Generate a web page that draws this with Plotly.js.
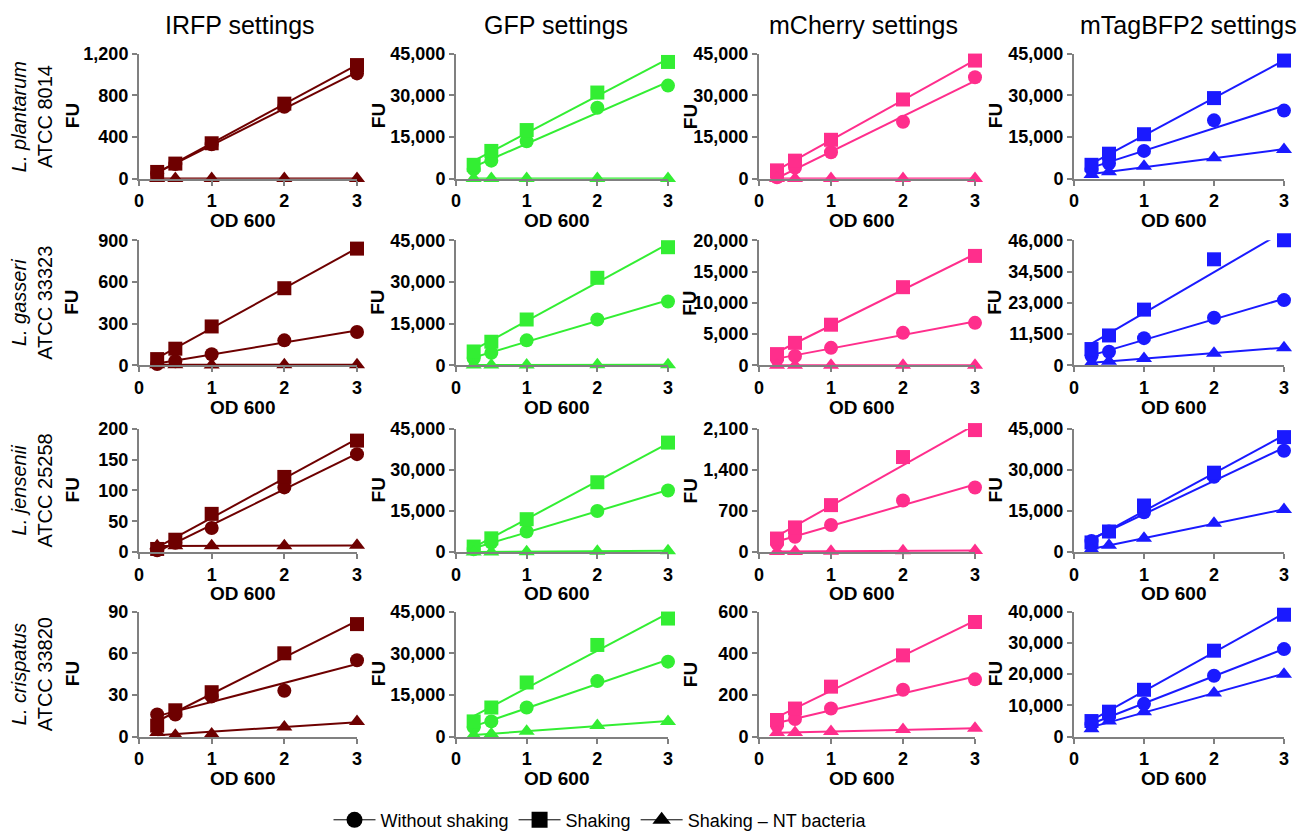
<!DOCTYPE html>
<html><head><meta charset="utf-8">
<script src="https://cdn.plot.ly/plotly-3.0.1.min.js"></script>
<style>body{margin:0;padding:0;background:#fff}#chart{width:1299px;height:839px}</style>
</head><body><div id="chart"></div>
<script>
// ---------- DATA ----------
const od600 = [0.25, 0.5, 1, 2, 3];
const settings = ["IRFP settings", "GFP settings", "mCherry settings", "mTagBFP2 settings"];
const strains = ["L. plantarum", "L. gasseri", "L. jensenii", "L. crispatus"];
const atcc = ["ATCC 8014", "ATCC 33323", "ATCC 25258", "ATCC 33820"];
const seriesNames = ["Without shaking", "Shaking", "Shaking \u2013 NT bacteria"];

// L. plantarum
const plantarum_IRFP_without = [50, 140, 330, 690, 1010];
const plantarum_IRFP_shaking = [65, 145, 340, 720, 1090];
const plantarum_IRFP_nt      = [2, 2, 2, 2, 2];
const plantarum_GFP_without  = [3500, 6500, 13500, 25500, 33500];
const plantarum_GFP_shaking  = [5000, 10000, 17500, 31000, 42000];
const plantarum_GFP_nt       = [100, 100, 100, 100, 100];
const plantarum_mCh_without  = [500, 4000, 9500, 20500, 36500];
const plantarum_mCh_shaking  = [3000, 6500, 14000, 28500, 42500];
const plantarum_mCh_nt       = [100, 100, 100, 100, 100];
const plantarum_BFP_without  = [3500, 5500, 10000, 21000, 24500];
const plantarum_BFP_shaking  = [5000, 9000, 16000, 29000, 42500];
const plantarum_BFP_nt       = [1500, 2500, 4500, 7500, 10500];
// L. gasseri
const gasseri_IRFP_without = [10, 30, 80, 180, 240];
const gasseri_IRFP_shaking = [45, 120, 280, 555, 840];
const gasseri_IRFP_nt      = [5, 5, 2, 5, 5];
const gasseri_GFP_without  = [2500, 4500, 9000, 16500, 23000];
const gasseri_GFP_shaking  = [5000, 8500, 16500, 31500, 42500];
const gasseri_GFP_nt       = [100, 100, 150, 200, 250];
const gasseri_mCh_without  = [1000, 1500, 2800, 5200, 6800];
const gasseri_mCh_shaking  = [1800, 3600, 6500, 12500, 17500];
const gasseri_mCh_nt       = [30, 30, 30, 30, 30];
const gasseri_BFP_without  = [3500, 5000, 10000, 17500, 24000];
const gasseri_BFP_shaking  = [6000, 11000, 20500, 39000, 46000];
const gasseri_BFP_nt       = [1000, 1500, 2500, 4500, 6500];
// L. jensenii
const jensenii_IRFP_without = [3, 15, 39, 105, 159];
const jensenii_IRFP_shaking = [5, 20, 62, 122, 181];
const jensenii_IRFP_nt      = [10, 10, 10, 10, 11];
const jensenii_GFP_without  = [1000, 3500, 7500, 15000, 22500];
const jensenii_GFP_shaking  = [2000, 5000, 12000, 25500, 40000];
const jensenii_GFP_nt       = [0, 0, 100, 300, 500];
const jensenii_mCh_without  = [150, 260, 460, 880, 1100];
const jensenii_mCh_shaking  = [230, 420, 800, 1620, 2080];
const jensenii_mCh_nt       = [10, 10, 15, 20, 25];
const jensenii_BFP_without  = [4000, 7500, 14500, 27500, 37000];
const jensenii_BFP_shaking  = [3500, 7500, 17000, 29000, 42000];
const jensenii_BFP_nt       = [1000, 2500, 5000, 10500, 15500];
// L. crispatus
const crispatus_IRFP_without = [16, 16, 29, 33, 55];
const crispatus_IRFP_shaking = [8, 19, 32, 60, 81];
const crispatus_IRFP_nt      = [3, 1, 2, 7, 11];
const crispatus_GFP_without  = [3500, 5500, 10500, 20000, 27000];
const crispatus_GFP_shaking  = [5500, 10500, 19500, 33000, 42500];
const crispatus_GFP_nt       = [500, 1000, 2000, 4000, 5500];
const crispatus_mCh_without  = [55, 85, 135, 225, 275];
const crispatus_mCh_shaking  = [80, 135, 240, 390, 550];
const crispatus_mCh_nt       = [20, 20, 25, 35, 40];
const crispatus_BFP_without  = [4000, 6500, 10500, 19500, 28000];
const crispatus_BFP_shaking  = [5000, 8000, 15000, 27500, 39000];
const crispatus_BFP_nt       = [2500, 5000, 8000, 14000, 20000];

// y-axis tick settings (max, step) per panel
const yMaxes = [[1200, 45000, 45000, 45000], [900, 45000, 20000, 46000], [200, 45000, 2100, 45000], [90, 45000, 600, 40000]];
const ySteps = [[400, 15000, 15000, 15000], [300, 15000, 5000, 11500], [50, 15000, 700, 15000], [30, 15000, 200, 10000]];
const xTicks = [0, 1, 2, 3];

// ---------- STYLE ----------
const colors = ["#6e0000", "#33ee33", "#ff2e8c", "#1a1aff"];
const symbols = ["circle", "square", "triangle-up"];
const sizes = [14, 14, 14];
const W = 1299, H = 839;
const colPx = [[139, 357], [456, 668], [759, 975], [1074, 1284]];
const rowPx = [[54, 180], [242, 368], [432, 556], [616, 742]];
const fuX = [72, 378, 690, 995];
const titleX = [240, 556, 863, 1188];
const FONT = "Liberation Sans, Arial, sans-serif";

const panels = [
  [[plantarum_IRFP_without, plantarum_IRFP_shaking, plantarum_IRFP_nt], [plantarum_GFP_without, plantarum_GFP_shaking, plantarum_GFP_nt], [plantarum_mCh_without, plantarum_mCh_shaking, plantarum_mCh_nt], [plantarum_BFP_without, plantarum_BFP_shaking, plantarum_BFP_nt]],
  [[gasseri_IRFP_without, gasseri_IRFP_shaking, gasseri_IRFP_nt], [gasseri_GFP_without, gasseri_GFP_shaking, gasseri_GFP_nt], [gasseri_mCh_without, gasseri_mCh_shaking, gasseri_mCh_nt], [gasseri_BFP_without, gasseri_BFP_shaking, gasseri_BFP_nt]],
  [[jensenii_IRFP_without, jensenii_IRFP_shaking, jensenii_IRFP_nt], [jensenii_GFP_without, jensenii_GFP_shaking, jensenii_GFP_nt], [jensenii_mCh_without, jensenii_mCh_shaking, jensenii_mCh_nt], [jensenii_BFP_without, jensenii_BFP_shaking, jensenii_BFP_nt]],
  [[crispatus_IRFP_without, crispatus_IRFP_shaking, crispatus_IRFP_nt], [crispatus_GFP_without, crispatus_GFP_shaking, crispatus_GFP_nt], [crispatus_mCh_without, crispatus_mCh_shaking, crispatus_mCh_nt], [crispatus_BFP_without, crispatus_BFP_shaking, crispatus_BFP_nt]]
];

function linfit(x, y) {
  const n = x.length;
  let sx = 0, sy = 0, sxx = 0, sxy = 0;
  for (let i = 0; i < n; i++) { sx += x[i]; sy += y[i]; sxx += x[i] * x[i]; sxy += x[i] * y[i]; }
  const b = (n * sxy - sx * sy) / (n * sxx - sx * sx);
  const a = (sy - b * sx) / n;
  return [a, b];
}

const traces = [];
const layout = {
  width: W, height: H,
  margin: {l: 0, r: 0, t: 0, b: 0},
  paper_bgcolor: "#fff", plot_bgcolor: "rgba(0,0,0,0)",
  showlegend: true, hovermode: false,
  font: {family: FONT, color: "#000"},
  legend: {orientation: "h", x: 600 / W, xanchor: "center", y: 1 - 826 / H, yanchor: "middle",
           font: {size: 18, family: FONT, color: "#000"}, itemsizing: "trace", itemwidth: 42, tracegroupgap: 0},
  annotations: []
};

for (let r = 0; r < 4; r++) {
  for (let c = 0; c < 4; c++) {
    const k = r * 4 + c + 1;
    const xa = "xaxis" + (k === 1 ? "" : k), ya = "yaxis" + (k === 1 ? "" : k);
    const xr = "x" + (k === 1 ? "" : k), yr = "y" + (k === 1 ? "" : k);
    const tickFont = {family: FONT, size: 18, color: "#000", weight: "bold"};
    layout[xa] = {
      domain: [colPx[c][0] / W, colPx[c][1] / W], anchor: yr,
      range: [0, 3], tickvals: xTicks, ticktext: xTicks.map(String),
      showline: true, linecolor: "#808080", linewidth: 2, mirror: false,
      ticks: "outside", ticklen: 5, tickwidth: 2, tickcolor: "#808080",
      showgrid: false, zeroline: false, tickfont: tickFont, fixedrange: true
    };
    layout[ya] = {
      domain: [1 - rowPx[r][1] / H, 1 - rowPx[r][0] / H], anchor: xr,
      range: [0, yMaxes[r][c]], tick0: 0, dtick: ySteps[r][c], tickformat: ",d",
      showline: true, linecolor: "#808080", linewidth: 2,
      ticks: "outside", ticklen: 5, tickwidth: 2, tickcolor: "#808080",
      showgrid: false, zeroline: false, tickfont: tickFont, fixedrange: true
    };
    const data = panels[r][c];
    for (let s = 0; s < 3; s++) {
      const ys = data[s];
      const [a, b] = linfit(od600, ys);
      const xEnds = [Math.min(...od600), Math.max(...od600)];
      traces.push({
        x: xEnds, y: xEnds.map(v => a + b * v), xaxis: xr, yaxis: yr,
        mode: "lines", line: {color: colors[c], width: 2}, showlegend: false, hoverinfo: "skip"
      });
      traces.push({
        x: od600, y: ys, xaxis: xr, yaxis: yr, mode: "markers", cliponaxis: false,
        marker: {symbol: symbols[s], size: sizes[s], color: colors[c], line: {width: 0}},
        showlegend: false, hoverinfo: "skip"
      });
    }
    // FU label
    layout.annotations.push({
      xref: "paper", yref: "paper", x: fuX[c] / W, y: 1 - (rowPx[r][0] + rowPx[r][1]) / 2 / H,
      text: "FU", textangle: -90, showarrow: false, xanchor: "center", yanchor: "middle",
      font: {size: 19, weight: "bold", family: FONT, color: "#000"}
    });
    // OD 600 label
    layout.annotations.push({
      xref: "paper", yref: "paper", x: ((colPx[c][0] + colPx[c][1]) / 2 - 6) / W, y: 1 - (rowPx[r][1] + 42) / H,
      text: "OD 600", showarrow: false, xanchor: "center", yanchor: "middle",
      font: {size: 19, weight: "bold", family: FONT, color: "#000"}
    });
  }
  // Row label
  layout.annotations.push({
    xref: "paper", yref: "paper", x: 32 / W, y: 1 - (rowPx[r][0] + rowPx[r][1]) / 2 / H,
    text: "<i>" + strains[r] + "</i><br>" + atcc[r], textangle: -90, showarrow: false,
    xanchor: "center", yanchor: "middle", align: "center",
    font: {size: 20, family: FONT, color: "#000"}
  });
}
// Column titles
for (let c = 0; c < 4; c++) {
  layout.annotations.push({
    xref: "paper", yref: "paper", x: titleX[c] / W, y: 1 - 25 / H,
    text: settings[c], showarrow: false, xanchor: "center", yanchor: "middle",
    font: {size: 25, family: FONT, color: "#000"}
  });
}
// Legend entries
for (let s = 0; s < 3; s++) {
  traces.push({
    x: [null], y: [null], xaxis: "x", yaxis: "y", mode: "lines+markers", name: seriesNames[s],
    line: {color: "#000", width: 1}, marker: {symbol: symbols[s], size: 22, color: "#000"},
    showlegend: true, hoverinfo: "skip"
  });
}

Plotly.newPlot("chart", traces, layout, {staticPlot: true, displayModeBar: false});
</script></body></html>
